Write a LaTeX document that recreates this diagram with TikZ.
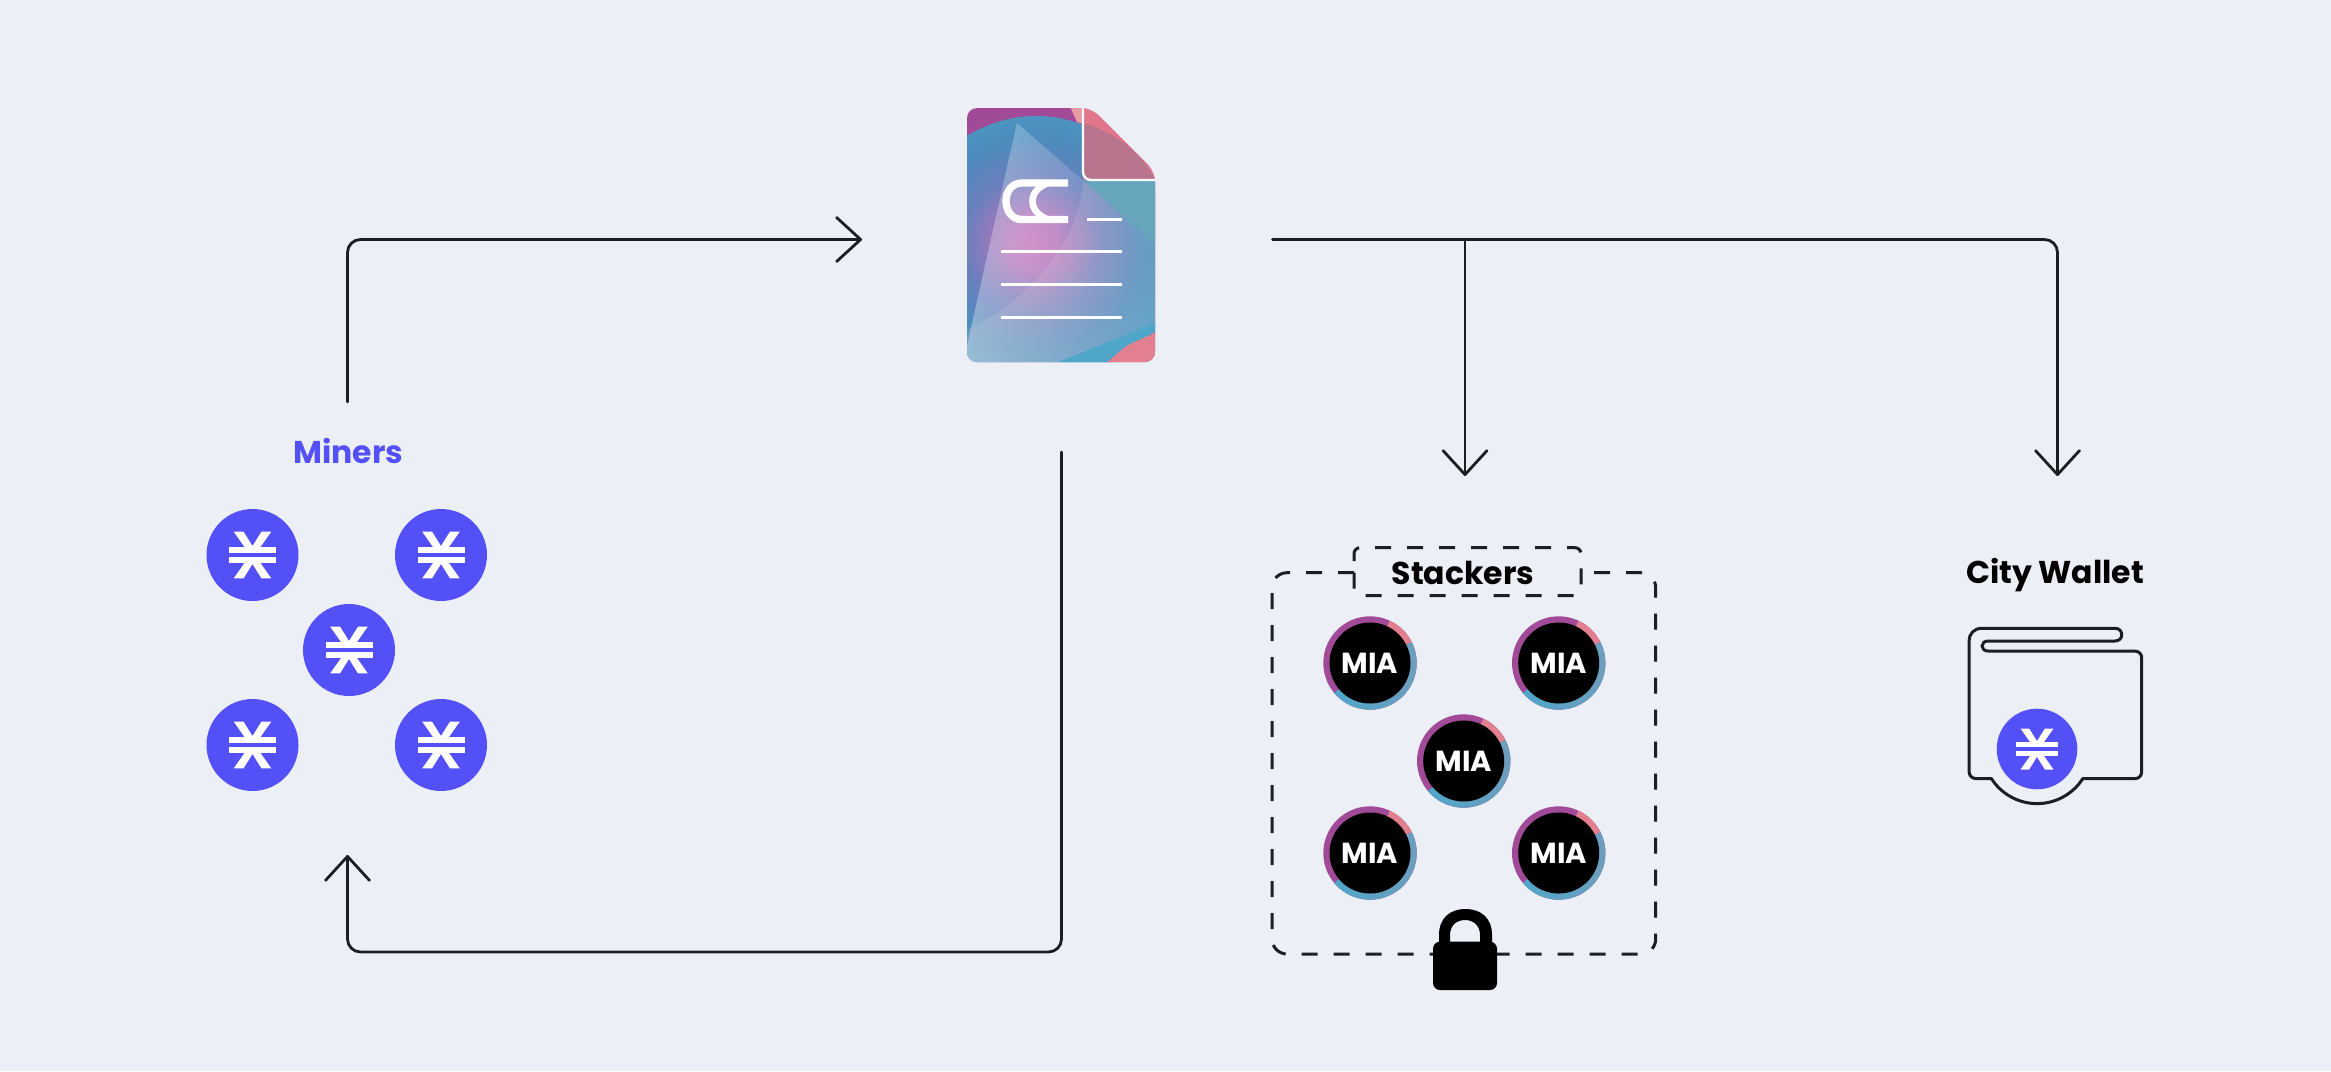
\documentclass[tikz,border=0pt]{standalone}
\usepackage{fontspec}
\setmainfont{Poppins}
\usetikzlibrary{arrows.meta,fadings}
\definecolor{bgc}{HTML}{ECF0F6}
\definecolor{stx}{HTML}{5350F8}
\definecolor{ink}{HTML}{1B1E22}
\definecolor{mpurple}{HTML}{A14A98}
\definecolor{mblue}{HTML}{4FA6C9}
\definecolor{mblueb}{HTML}{6F9DBD}
\definecolor{mpink}{HTML}{E2808F}
\definecolor{foldpink}{HTML}{E2768A}
\definecolor{folddark}{HTML}{B8748C}
\definecolor{tealtri}{HTML}{66A5BC}
\pgfdeclareradialshading{docglow}{\pgfpoint{0bp}{0bp}}{%
 rgb(0bp)=(0.76,0.45,0.74);
 rgb(3bp)=(0.72,0.46,0.74);
 rgb(9bp)=(0.42,0.50,0.74);
 rgb(14bp)=(0.30,0.55,0.74);
 rgb(22bp)=(0.29,0.64,0.78);
 rgb(50bp)=(0.36,0.70,0.80)}
\tikzset{
 conn/.style={draw=ink,line width=2.8pt,line cap=round,line join=round,rounded corners=13pt,
   -{Straight Barb[length=24pt,width=44pt,line width=2.8pt,round]}},
 coin/.style={circle,fill=stx,minimum size=92pt,inner sep=0pt},
 smallcoin/.style={circle,fill=stx,minimum size=80.6pt,inner sep=0pt},
 miahole/.style={circle,fill=black,minimum size=81pt,inner sep=0pt,text=white,font=\fontsize{29}{29}\selectfont\bfseries},
 lbl/.style={anchor=base,inner sep=0pt,font=\fontsize{31.5}{31.5}\selectfont\bfseries},
 dashbox/.style={draw=ink,line width=3pt,dash pattern=on 16pt off 16pt},
 docline/.style={draw=white,line width=3pt},
}
\newcommand{\stxmark}[2]{%
 \begin{scope}[shift={(#1.center)},scale=#2]
  \fill[white] (-23.5,-8.4) rectangle (23.5,-2.4);
  \fill[white] (-23.5,2.4) rectangle (23.5,8.4);
  \fill[white] (-18.8,-23.4) -- (-9,-23.4) -- (0,-9) -- (9,-23.4) -- (18.8,-23.4) -- (8,-8) -- (-8,-8) -- cycle;
  \fill[white] (-18.8,23.4) -- (-9,23.4) -- (0,9) -- (9,23.4) -- (18.8,23.4) -- (8,8) -- (-8,8) -- cycle;
 \end{scope}}
\newcommand{\miacoin}[3]{%
 \fill[mpurple] (#2,#3) circle (46.7);
 \shade[left color=mblue,right color=mblueb] (#2,#3) -- +(-27:46.7) arc[start angle=-27,end angle=140,radius=46.7] -- cycle;
 \fill[mpink] (#2,#3) -- +(-65:46.7) arc[start angle=-65,end angle=-27,radius=46.7] -- cycle;
 \node[miahole] (#1) at (#2,#3) {MIA};}
\begin{document}
\begin{tikzpicture}[x=1pt,y=-1pt]
\useasboundingbox (0,0) rectangle (2331,1071);
\fill[bgc] (0,0) rectangle (2331,1071);

% document icon
\node[minimum width=188pt,minimum height=254pt,inner sep=0pt] (doc) at (1061,235) {};
\begin{scope}
 \clip[rounded corners=10pt] (967,108) -- (1091,108) -- (1155,172) -- (1155,362) -- (967,362) -- cycle;
 \fill[mpurple] (960,100) rectangle (1160,370);
 \begin{scope}
  \clip (960,140) .. controls (985,124) and (1010,116) .. (1036,116)
        .. controls (1090,116) and (1140,150) .. (1160,200)
        -- (1160,324) -- (1105,368) -- (960,368) -- cycle;
  \shade[shading=docglow] (1033,243) circle (190);
 \end{scope}
 % translucent sheet
 \fill[white,opacity=.34,path fading=east] (1017,123) -- (1160,248) -- (1160,325) -- (1057,366) -- (960,366) -- (966,350) -- cycle;
 % lower-right lighter region
 \fill[white!50!pink,opacity=.14] (1083,177) .. controls (1083,225) and (1045,295) .. (960,333) -- (960,366) -- (1057,366) -- (1160,325) -- (1160,248) -- (1125,217) -- (1125,177) -- cycle;
 % area above the sheet on the right
 \fill[tealtri] (1083,180) -- (1160,180) -- (1160,249) -- cycle;
 % teal band and pink corner
 \fill[mblue] (1057,362.5) -- (1158,322) -- (1158,330) -- (1105,364) -- cycle;
 \fill[mpink] (1105,364) -- (1125,347) .. controls (1135,341) and (1145,338) .. (1158,331) -- (1158,364) -- cycle;
 % fold
 \fill[foldpink] (1083,104) -- (1160,104) -- (1160,180) -- (1083,180) -- cycle;
 \fill[folddark] (1083,123) .. controls (1110,130) and (1140,150) .. (1155,180) -- (1083,180) -- cycle;
 \fill[mpink!80!white] (1069,104) -- (1083,104) -- (1083,124) -- (1077,122) -- cycle;
\end{scope}
\draw[draw=white,line width=2.4pt,rounded corners=8pt] (1083,108) -- (1083,180) -- (1155,180);
% CC logo
\draw[draw=white,line width=7.4pt] (1068,183) -- (1022,183) .. controls (1012,183) and (1006,191) .. (1006,201) .. controls (1006,211) and (1012,219.5) .. (1022,219.5) -- (1068,219.5);
\draw[draw=white,line width=6.6pt] (1048,183) .. controls (1038,187) and (1032.5,193) .. (1032.5,201) .. controls (1032.5,209) and (1038,215.5) .. (1048,219.5);
\draw[docline] (1087,219) -- (1122,219);
\draw[docline] (1001,251) -- (1122,251);
\draw[docline] (1001,284) -- (1122,284);
\draw[docline] (1001,317) -- (1122,317);

% connector end points
\coordinate (aS) at (347.5,402);
\coordinate (aC) at (347.5,239.5);
\coordinate (aE) at (862,239.5);
\coordinate (tS) at (1272.5,239.5);
\coordinate (tB) at (1465,239.5);
\coordinate (tC) at (2057.5,239.5);
\coordinate (tE) at (2057.5,476);
\coordinate (bE) at (1465,476);
\coordinate (rS) at (1061.5,452);
\coordinate (rC) at (1061.5,952);
\coordinate (rD) at (347.5,952);
\coordinate (rE) at (347.5,855);
\draw[conn] (aS) -- (aC) -- (aE);
\draw[conn] (tS) -- (tC) -- (tE);
\draw[conn] (tB) -- (bE);
\draw[conn] (rS) -- (rC) -- (rD) -- (rE);

% miners
\node[lbl,text=stx] (minersL) at (348.5,463) {Miners};
\node[coin] (m1) at (252.5,555) {}; \stxmark{m1}{1}
\node[coin] (m2) at (441,555) {}; \stxmark{m2}{1}
\node[coin] (m3) at (349,650) {}; \stxmark{m3}{1}
\node[coin] (m4) at (252.5,745) {}; \stxmark{m4}{1}
\node[coin] (m5) at (441,745) {}; \stxmark{m5}{1}

% stackers
\draw[dashbox,rounded corners=15pt] (1354,572.7) -- (1272,572.7) -- (1272,954) -- (1655.7,954) -- (1655.7,572.7) -- (1581,572.7);
\draw[dashbox,rounded corners=6pt] (1354,572.7) -- (1354,595.7) -- (1581,595.7) -- (1581,547.7) -- (1354,547.7) -- (1354,572.7);
\node[lbl,text=black] (stackersL) at (1463,584) {Stackers};
\miacoin{s1}{1370}{663}
\miacoin{s2}{1558.7}{663}
\miacoin{s3}{1463.7}{761}
\miacoin{s4}{1370}{853}
\miacoin{s5}{1558.7}{853}

% lock
\fill[black,even odd rule] (1439,945) -- (1439,935) .. controls (1439,918) and (1450,909) .. (1465.5,909) .. controls (1481,909) and (1492,918) .. (1492,935) -- (1492,945) -- cycle
  (1450,942) -- (1450,935) .. controls (1450,926) and (1456,920) .. (1465,920) .. controls (1474,920) and (1480,926) .. (1480,935) -- (1480,942) -- cycle;
\fill[black,rounded corners=7pt] (1433,941.7) rectangle (1497,990);

% city wallet
\node[lbl,text=black] (walletL) at (2055,583) {City Wallet};
\draw[draw=ink,line width=3pt,line join=round] (1981.7,628.3) -- (2115,628.3)
  .. controls (2119,628.3) and (2121.7,631) .. (2121.7,634.7) .. controls (2121.7,638.4) and (2119,641) .. (2115,641)
  -- (1988,641) .. controls (1984.5,641) and (1982,643) .. (1982,646) .. controls (1982,649) and (1984.5,651) .. (1988,651)
  -- (2134,651) .. controls (2139,651) and (2141.7,654) .. (2141.7,658) -- (2141.7,771) .. controls (2141.7,776) and (2139,778.7) .. (2134,778.7)
  -- (2082.7,778.7) arc[start angle=32.7,end angle=147.3,radius=54.2]
  -- (1977,778.7) .. controls (1972,778.7) and (1969,776) .. (1969,771) -- (1969,641) .. controls (1969,634) and (1974,628.3) .. (1981.7,628.3) -- cycle;
\node[smallcoin] (w1) at (2037,749) {}; \stxmark{w1}{.876}
\end{tikzpicture}
\end{document}
